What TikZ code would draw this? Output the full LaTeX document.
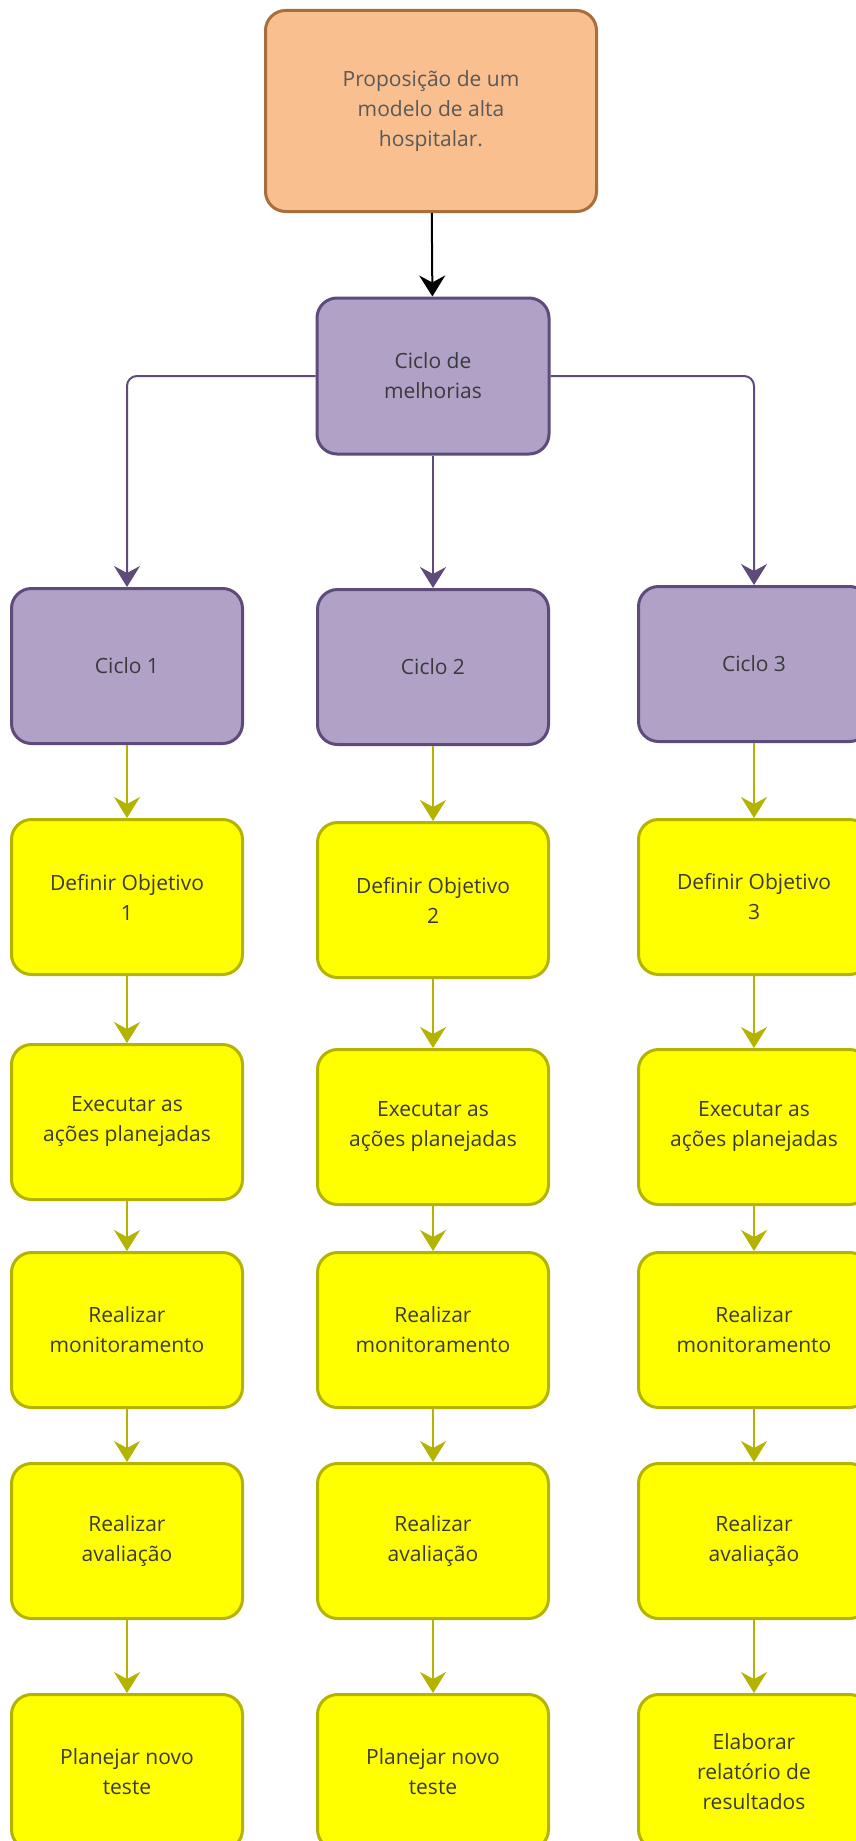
\documentclass[tikz,border=0pt]{standalone}
\usepackage{fontspec}
\setmainfont{Open Sans}
\usetikzlibrary{arrows.meta,positioning}

\definecolor{orangefill}{HTML}{F9BF8F}
\definecolor{orangeline}{HTML}{A86E3C}
\definecolor{lilacfill}{HTML}{B0A1C7}
\definecolor{lilacline}{HTML}{5E4B7C}
\definecolor{yellowfill}{HTML}{FFFF00}
\definecolor{yellowline}{HTML}{B3B300}
\definecolor{textgray}{HTML}{3A3A3A}

\begin{document}
\begin{tikzpicture}[x=1pt,y=-1pt,
		box/.style={rounded corners=20pt, line width=3pt, align=center,
			text=textgray, minimum width=231pt, minimum height=155pt,
			font=\fontsize{21}{30}\selectfont},
		topbox/.style={box, fill=orangefill, draw=orangeline, text=black!65,
			minimum width=331pt, minimum height=201pt},
		cyclebox/.style={box, fill=lilacfill, draw=lilacline},
		stepbox/.style={box, fill=yellowfill, draw=yellowline},
		link/.style={->, line width=2pt},
		>={Stealth[length=21pt,width=26pt,inset=7pt]}]
		\clip (0,0) rectangle (856,1841);
		\fill[white] (0,0) rectangle (856,1841);
		% top of the tree
		\node[topbox] (prop) at (431,111) {Proposição de um\\modelo de alta\\hospitalar.};
		\node[cyclebox, minimum width=232pt, minimum height=156pt] (melh) at (433,376) {Ciclo de\\melhorias};
		\node[cyclebox] (c1) at (127,666) {Ciclo 1};
		\node[cyclebox] (c2) at (433,667) {Ciclo 2};
		\node[cyclebox] (c3) at (754,664) {Ciclo 3};
		% column 1
		\node[stepbox] (d1) at (127,897) {Definir Objetivo\\1};
		\node[stepbox] (e1) at (127,1122) {Executar as\\ações planejadas};
		\node[stepbox] (m1) at (127,1330) {Realizar\\monitoramento};
		\node[stepbox] (a1) at (127,1541) {Realizar\\avaliação};
		\node[stepbox] (f1) at (127,1772) {Planejar novo\\teste};
		% column 2
		\node[stepbox] (d2) at (433,900) {Definir Objetivo\\2};
		\node[stepbox] (e2) at (433,1127) {Executar as\\ações planejadas};
		\node[stepbox] (m2) at (433,1330) {Realizar\\monitoramento};
		\node[stepbox] (a2) at (433,1541) {Realizar\\avaliação};
		\node[stepbox] (f2) at (433,1772) {Planejar novo\\teste};
		% column 3
		\node[stepbox] (d3) at (754,897) {Definir Objetivo\\3};
		\node[stepbox] (e3) at (754,1127) {Executar as\\ações planejadas};
		\node[stepbox] (m3) at (754,1330) {Realizar\\monitoramento};
		\node[stepbox] (a3) at (754,1541) {Realizar\\avaliação};
		\node[stepbox] (f3) at (754,1772) {Elaborar\\relatório de\\resultados};
		% connectors
		\draw[link, black] (prop) -- (melh);
		\draw[link, lilacline, rounded corners=10pt] (melh.west) -| (c1.north);
		\draw[link, lilacline] (melh) -- (c2);
		\draw[link, lilacline, rounded corners=10pt] (melh.east) -| (c3.north);
		\draw[link, yellowline] (c1) -- (d1);
		\draw[link, yellowline] (d1) -- (e1);
		\draw[link, yellowline] (e1) -- (m1);
		\draw[link, yellowline] (m1) -- (a1);
		\draw[link, yellowline] (a1) -- (f1);
		\draw[link, yellowline] (c2) -- (d2);
		\draw[link, yellowline] (d2) -- (e2);
		\draw[link, yellowline] (e2) -- (m2);
		\draw[link, yellowline] (m2) -- (a2);
		\draw[link, yellowline] (a2) -- (f2);
		\draw[link, yellowline] (c3) -- (d3);
		\draw[link, yellowline] (d3) -- (e3);
		\draw[link, yellowline] (e3) -- (m3);
		\draw[link, yellowline] (m3) -- (a3);
		\draw[link, yellowline] (a3) -- (f3);
	\end{tikzpicture}
\end{document}
